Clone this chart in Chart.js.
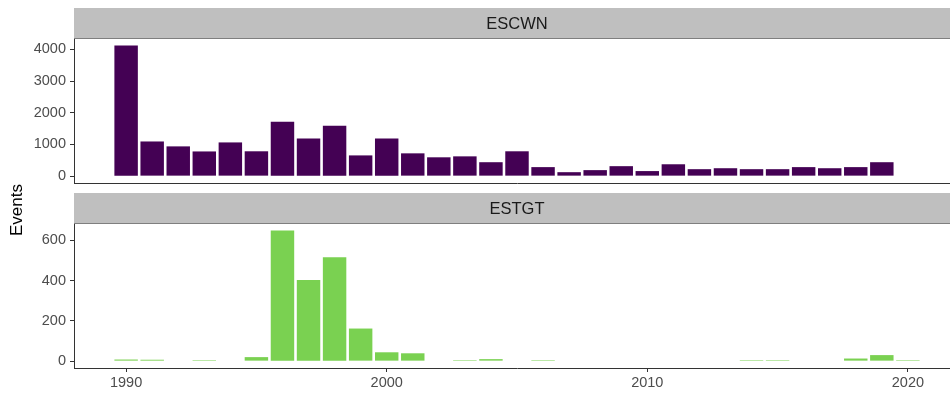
<!DOCTYPE html>
<html>
<head>
<meta charset="UTF-8">
<title>Events per year</title>
<script src="https://cdn.jsdelivr.net/npm/chart.js"></script>
<style>
  body { margin: 0; width: 950px; height: 396px; overflow: hidden; background: #fff; position: relative;
         font-family: "Liberation Sans", Arial, sans-serif; }
  canvas { position: absolute; left: 0; }
  #top { top: 0; }
  #bottom { top: 185px; }
  #ytitle { position: absolute; left: 17px; top: 210px; transform: translate(-50%, -50%) rotate(-90deg);
            font: normal 400 17px "Liberation Sans", Arial, sans-serif; color: #000; white-space: nowrap; }
</style>
</head>
<body>
<canvas id="top" width="960" height="200"></canvas>
<canvas id="bottom" width="960" height="211"></canvas>
<div id="ytitle">Events</div>

<script>
  // events per year, one panel per station
  const escwnYears = [1990, 1991, 1992, 1993, 1994, 1995, 1996, 1997, 1998, 1999,
                      2000, 2001, 2002, 2003, 2004, 2005, 2006, 2007, 2008, 2009,
                      2010, 2011, 2012, 2013, 2014, 2015, 2016, 2017, 2018, 2019];
  const escwnEvents = [4125, 1095, 940, 780, 1065, 785, 1720, 1190, 1595, 655,
                       1190, 720, 595, 625, 440, 785, 285, 125, 190, 315,
                       160, 375, 220, 250, 220, 220, 285, 250, 285, 440];

  const estgtYears = [1990, 1991, 1993, 1995, 1996, 1997, 1998, 1999, 2000, 2001,
                      2003, 2004, 2006, 2014, 2015, 2018, 2019, 2020];
  const estgtEvents = [8, 7, 5, 20, 649, 403, 516, 162, 44, 39,
                       5, 10, 5, 5, 5, 13, 30, 5];

  const yearTicks = [1990, 2000, 2010, 2020];
  const escwnTicks = [0, 1000, 2000, 3000, 4000];
  const estgtTicks = [0, 200, 400, 600];

  const tickFont = { family: "'Liberation Sans', Arial, sans-serif", size: 14.5 };

  // grey facet strip above each panel
  const stripPlugin = {
    id: 'strip',
    beforeDraw(chart, args, opts) {
      const { ctx, chartArea } = chart;
      ctx.save();
      ctx.fillStyle = '#bfbfbf';
      ctx.fillRect(chartArea.left, 8, chartArea.right - chartArea.left, chartArea.top - 8);
      ctx.fillStyle = '#7f7f7f';
      ctx.fillRect(chartArea.left, chartArea.top - 1, chartArea.right - chartArea.left, 1);
      ctx.fillStyle = '#1a1a1a';
      ctx.font = "16.5px 'Liberation Sans', Arial, sans-serif";
      ctx.textAlign = 'center';
      ctx.textBaseline = 'middle';
      ctx.fillText(opts.text, (chartArea.left + chartArea.right) / 2, (8 + chartArea.top) / 2 + 0.5);
      ctx.restore();
    }
  };

  function panel(canvasId, label, years, values, color, yTicks, showYears, xHeight) {
    const top = Math.max(...values) * 1.05;
    return new Chart(document.getElementById(canvasId), {
      type: 'bar',
      data: {
        datasets: [{
          data: years.map((y, i) => ({ x: y, y: values[i] })),
          backgroundColor: color,
          borderWidth: 0,
          barPercentage: 0.9,
          categoryPercentage: 1.0
        }]
      },
      plugins: [stripPlugin],
      options: {
        responsive: false,
        animation: false,
        layout: { padding: { top: 39, left: 0, right: 0, bottom: 0 } },
        plugins: {
          legend: { display: false },
          tooltip: { enabled: false },
          strip: { text: label }
        },
        scales: {
          x: {
            type: 'linear',
            min: 1988,
            max: 2022,
            offset: false,
            grid: { offset: false, drawOnChartArea: false, drawTicks: showYears, tickLength: 4, color: '#333333' },
            border: { color: '#333333', width: 1 },
            ticks: { display: showYears, color: '#4d4d4d', font: tickFont, padding: 2, maxRotation: 0,
                     callback: v => String(v) },
            afterBuildTicks: s => { s.ticks = yearTicks.map(v => ({ value: v })); },
            afterFit: s => { s.height = xHeight; }
          },
          y: {
            min: -0.05 * top,
            max: top,
            grid: { drawOnChartArea: false, tickLength: 4, color: '#333333' },
            border: { color: '#333333', width: 1 },
            ticks: { color: '#4d4d4d', font: tickFont, padding: 4, callback: v => String(v) },
            afterBuildTicks: s => { s.ticks = yTicks.map(v => ({ value: v })); },
            afterFit: s => { s.width = 74; }
          }
        }
      }
    });
  }

  panel('top', 'ESCWN', escwnYears, escwnEvents, '#440154', escwnTicks, false, 17);
  panel('bottom', 'ESTGT', estgtYears, estgtEvents, '#7ad151', estgtTicks, true, 28);
</script>
</body>
</html>
